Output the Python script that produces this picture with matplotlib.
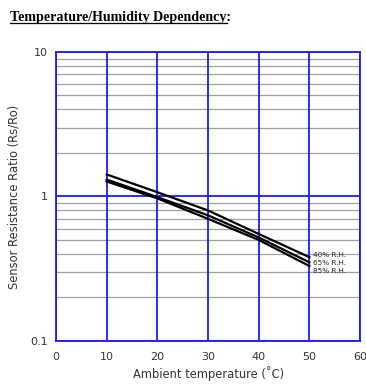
import matplotlib
matplotlib.use("Agg")
import matplotlib.pyplot as plt
from matplotlib.lines import Line2D
from matplotlib.ticker import FixedLocator, FixedFormatter, NullFormatter

# values
temps = [10, 20, 30, 40, 50]
rh40 = [1.42, 1.07, 0.80, 0.55, 0.38]
rh65 = [1.31, 0.99, 0.74, 0.52, 0.35]
rh85 = [1.27, 0.97, 0.70, 0.50, 0.33]
series_labels = ["40% R.H.", "65% R.H.", "85% R.H."]

xticks = [0, 10, 20, 30, 40, 50, 60]
yticks = [0.1, 1, 10]
ytick_labels = ["0.1", "1", "10"]

blue = "#1a1aff"

fig = plt.figure(figsize=(3.66, 3.91), dpi=100)
ax = fig.add_axes([0.153, 0.128, 0.831, 0.739])

ax.set_yscale("log")
ax.set_xlim(0, 60)
ax.set_ylim(0.1, 10)

# grey minor lines, blue major lines
minors = [m * d for d in (0.1, 1) for m in range(2, 10)]
for v in minors:
    ax.axhline(v, color="#a0a0a0", lw=0.9, zorder=1)
for v in yticks:
    ax.axhline(v, color=blue, lw=1.3, zorder=2)
for v in xticks:
    ax.axvline(v, color=blue, lw=1.3, zorder=2)

for ys in (rh40, rh65, rh85):
    ax.plot(temps, ys, color="black", lw=1.6, zorder=3)

# labels stacked to the right of the curve ends
label_y = [0.392, 0.345, 0.305]
for yy, lab in zip(label_y, series_labels):
    ax.text(50.7, yy, lab, fontsize=5.2, va="center", ha="left",
            color="#222222", zorder=4)

ax.xaxis.set_major_locator(FixedLocator(xticks))
ax.yaxis.set_major_locator(FixedLocator(yticks))
ax.yaxis.set_major_formatter(FixedFormatter(ytick_labels))
ax.yaxis.set_minor_formatter(NullFormatter())
ax.tick_params(which="both", length=0, labelsize=8, colors="#333333", pad=8)
ax.tick_params(axis="y", pad=6)

for sp in ax.spines.values():
    sp.set_color(blue)
    sp.set_linewidth(1.3)

ax.set_xlabel("Ambient temperature (\u02daC)", fontsize=8.3, color="#333333", labelpad=3)
ax.set_ylabel("Sensor Resistance Ratio (Rs/Ro)", fontsize=8.3, color="#333333", labelpad=7)

title = fig.text(0.027, 0.955, "Temperature/Humidity Dependency:", fontsize=10.1,
                 family="Liberation Serif", weight="bold", ha="left", va="center")

fig.canvas.draw()
bb = title.get_window_extent().transformed(fig.transFigure.inverted())
fig.add_artist(Line2D([bb.x0, bb.x1 - 0.01], [bb.y0 + 0.003, bb.y0 + 0.003],
                      color="black", lw=0.9, transform=fig.transFigure))

fig.savefig("out.png", dpi=100)
